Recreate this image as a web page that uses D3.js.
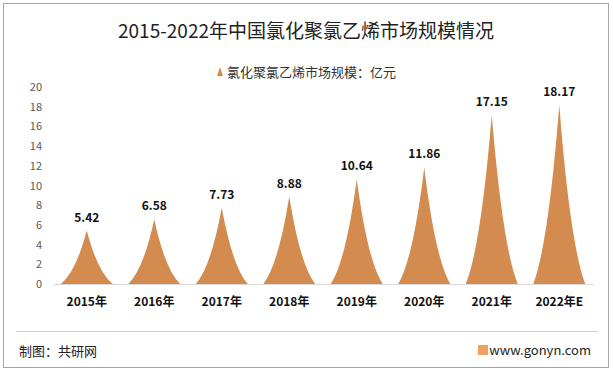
<!DOCTYPE html>
<html>
<head>
<meta charset="utf-8">
<script src="https://cdn.jsdelivr.net/npm/d3@7"></script>
<style>
  body { margin: 0; background: #fff; }
  text { font-family: "Microsoft YaHei", "Noto Sans CJK SC", "Noto Sans", sans-serif; }
</style>
</head>
<body>
<div class="canvas"></div>
<script>
const years = ['2015年', '2016年', '2017年', '2018年', '2019年', '2020年', '2021年', '2022年E'];
const values = [5.42, 6.58, 7.73, 8.88, 10.64, 11.86, 17.15, 18.17];
const yTicks = [0, 2, 4, 6, 8, 10, 12, 14, 16, 18, 20];

const W = 613, H = 372;
const color = '#D38B50';

const svg = d3.select('.canvas')
    .append('svg')
    .attr('width', W)
    .attr('height', H)

// 外框
svg.append('rect')
    .attr('x', 3.5).attr('y', 3.5)
    .attr('width', W - 8).attr('height', H - 8)
    .attr('fill', '#fff')
    .attr('stroke', '#a6a6a6')

// 標題
svg.append('text')
    .attr('x', 306).attr('y', 38)
    .attr('text-anchor', 'middle')
    .attr('font-size', '19px')
    .attr('fill', '#222')
    .text('2015-2022年中国氯化聚氯乙烯市场规模情况')

// 圖例
const legend = svg.append('g').attr('transform', 'translate(217, 72)');
legend.append('path')
    .attr('d', 'M0,4 L3,-5 L6,4 Z')
    .attr('fill', color)
legend.append('text')
    .attr('x', 10).attr('y', 5)
    .attr('font-size', '13px')
    .attr('fill', '#333')
    .text('氯化聚氯乙烯市场规模：亿元')

const x = d3.scaleBand()
    .domain(years)
    .range([53, 593]);

const y = d3.scaleLinear()
    .domain([0, 20])
    .range([284, 87]);

// y 軸
const yAxis = d3.axisLeft(y).tickValues(yTicks).tickSize(0).tickPadding(0);
const yAxisGroup = svg.append('g')
    .attr('transform', 'translate(42, 0)')
    .call(yAxis);
yAxisGroup.select('.domain').remove();
yAxisGroup.selectAll('text')
    .attr('font-size', '11px')
    .attr('fill', '#595959')

// x 軸
const xAxis = d3.axisBottom(x).tickSize(0).tickPadding(0);
const xAxisGroup = svg.append('g')
    .attr('transform', `translate(0, ${y(0)})`)
    .call(xAxis);
xAxisGroup.select('.domain').attr('stroke', '#d9d9d9');
xAxisGroup.selectAll('text')
    .attr('y', 22)
    .attr('dy', 0)
    .attr('font-size', '12px')
    .attr('font-weight', 'bold')
    .attr('fill', '#111')

// 尖峰形柱子
const halfW = x.bandwidth() * 0.385;
const peak = d => {
    const cx = x(d.year) + x.bandwidth() / 2;
    const b = y(0), t = y(d.value), h = b - t;
    return `M${cx - halfW},${b} Q${cx - halfW * 0.42},${b - h * 0.22} ${cx},${t} ` +
        `Q${cx + halfW * 0.42},${b - h * 0.22} ${cx + halfW},${b} Z`;
};

const data = years.map((yr, i) => ({ year: yr, value: values[i] }));

svg.append('g').selectAll('path')
    .data(data)
    .enter()
    .append('path')
    .attr('d', peak)
    .attr('fill', color)

svg.append('g').selectAll('text')
    .data(data)
    .enter()
    .append('text')
    .attr('x', d => x(d.year) + x.bandwidth() / 2)
    .attr('y', d => y(d.value) - 9)
    .attr('text-anchor', 'middle')
    .attr('font-size', '12px')
    .attr('font-weight', 'bold')
    .attr('fill', '#111')
    .text(d => d.value.toFixed(2))

// 底部
svg.append('line')
    .attr('x1', 16).attr('x2', 598)
    .attr('y1', 331.5).attr('y2', 331.5)
    .attr('stroke', '#d0d0d0')

svg.append('text')
    .attr('x', 19).attr('y', 356)
    .attr('font-size', '13px')
    .attr('fill', '#222')
    .text('制图：共研网')

svg.append('rect')
    .attr('x', 478).attr('y', 345)
    .attr('width', 10).attr('height', 10)
    .attr('fill', '#f0a060')

svg.append('text')
    .attr('x', 591).attr('y', 355)
    .attr('text-anchor', 'end')
    .attr('font-size', '13px')
    .attr('fill', '#222')
    .text('www.gonyn.com')
</script>
</body>
</html>
